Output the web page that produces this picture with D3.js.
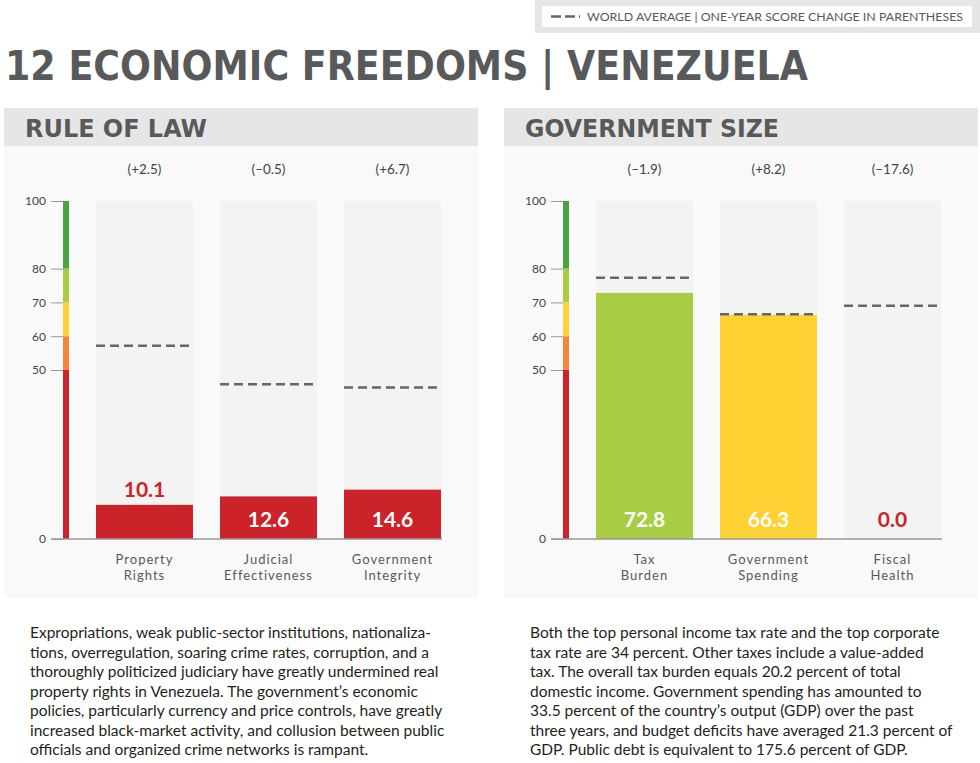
<!DOCTYPE html>
<html>
<head>
<meta charset="utf-8">
<script src="https://cdn.jsdelivr.net/npm/d3@7"></script>
<style>
	html, body { margin: 0; padding: 0; background: #fff; }
	svg { display: block; }
	text { font-family: Lato, "Open Sans", sans-serif; }
</style>
</head>
<body>
<div id="chart"></div>
<script>
// data
var ticks = [0, 50, 60, 70, 80, 100];
var bands = [
	{ from: 0, to: 50, color: "#cc2229" },
	{ from: 50, to: 60, color: "#f4873a" },
	{ from: 60, to: 70, color: "#fed232" },
	{ from: 70, to: 80, color: "#a8cd45" },
	{ from: 80, to: 100, color: "#49a442" }
];

var lawCategories = [["Property", "Rights"], ["Judicial", "Effectiveness"], ["Government", "Integrity"]];
var lawScores = [10.1, 12.6, 14.6];
var lawWorld = [57.2, 45.8, 44.8];
var lawChanges = ["(+2.5)", "(\u20130.5)", "(+6.7)"];
var lawText = [
	"Expropriations, weak public-sector institutions, nationaliza-",
	"tions, overregulation, soaring crime rates, corruption, and a",
	"thoroughly politicized judiciary have greatly undermined real",
	"property rights in Venezuela. The government\u2019s economic",
	"policies, particularly currency and price controls, have greatly",
	"increased black-market activity, and collusion between public",
	"officials and organized crime networks is rampant."
];

var govCategories = [["Tax", "Burden"], ["Government", "Spending"], ["Fiscal", "Health"]];
var govScores = [72.8, 66.3, 0.0];
var govWorld = [77.3, 66.5, 69.0];
var govChanges = ["(\u20131.9)", "(+8.2)", "(\u201317.6)"];
var govText = [
	"Both the top personal income tax rate and the top corporate",
	"tax rate are 34 percent. Other taxes include a value-added",
	"tax. The overall tax burden equals 20.2 percent of total",
	"domestic income. Government spending has amounted to",
	"33.5 percent of the country\u2019s output (GDP) over the past",
	"three years, and budget deficits have averaged 21.3 percent of",
	"GDP. Public debt is equivalent to 175.6 percent of GDP."
];

var width = 980;
var height = 763;
var grey = "#58595b";

var svg = d3.select("#chart")
	.append("svg")
	.attr("width", width)
	.attr("height", height);

// legend box
svg.append("rect").attr("x", 535).attr("y", 0).attr("width", 445).attr("height", 33).attr("fill", "#e6e6e6");
svg.append("rect").attr("x", 542).attr("y", 6).attr("width", 430).attr("height", 21).attr("fill", "#fff");
svg.append("line")
	.attr("x1", 551).attr("x2", 580).attr("y1", 16.5).attr("y2", 16.5)
	.attr("stroke", "#666").attr("stroke-width", 2.5).attr("stroke-dasharray", "10,4");
svg.append("text")
	.attr("x", 587).attr("y", 20.5)
	.attr("font-size", 11)
	.attr("fill", grey)
	.attr("textLength", 376)
	.attr("lengthAdjust", "spacingAndGlyphs")
	.text("WORLD AVERAGE  |  ONE-YEAR SCORE CHANGE IN PARENTHESES");

// main title
svg.append("text")
	.attr("x", 5).attr("y", 80)
	.attr("font-size", 40)
	.attr("font-weight", "bold")
	.attr("fill", grey)
	.style("font-family", "'DejaVu Sans', sans-serif")
	.attr("textLength", 803)
	.attr("lengthAdjust", "spacingAndGlyphs")
	.text("12 ECONOMIC FREEDOMS | VENEZUELA");

function colorFor (v) {
	var c = bands[0].color;
	bands.forEach(function (b) { if (v >= b.from) { c = b.color; } });
	return c;
}

function drawPanel (x0, title, titleWidth, categories, scores, world, changes, textLines) {
	var g = svg.append("g").attr("transform", "translate(" + x0 + ",0)");

	// panel backgrounds
	g.append("rect").attr("x", 4).attr("y", 108).attr("width", 474).attr("height", 38).attr("fill", "#e6e6e6");
	g.append("rect").attr("x", 4).attr("y", 146).attr("width", 474).attr("height", 452).attr("fill", "#f9f9f9");

	g.append("text")
		.attr("x", 25).attr("y", 137)
		.attr("font-size", 24)
		.attr("font-weight", "bold")
		.attr("fill", grey)
		.style("font-family", "'DejaVu Sans', sans-serif")
		.attr("textLength", titleWidth)
		.attr("lengthAdjust", "spacingAndGlyphs")
		.text(title);

	var y = d3.scaleLinear().domain([0, 100]).range([539, 201]);
	var x = d3.scaleBand()
		.domain(d3.range(categories.length))
		.range([96, 441])
		.paddingInner(0.2177)
		.paddingOuter(0);

	// colour scale bar
	g.selectAll(".band")
		.data(bands)
		.enter()
		.append("rect")
		.attr("x", 63)
		.attr("width", 6)
		.attr("y", function (d) { return y(d.to); })
		.attr("height", function (d) { return y(d.from) - y(d.to); })
		.attr("fill", function (d) { return d.color; });

	// axis
	var axis = g.append("g")
		.attr("transform", "translate(63,0)")
		.call(d3.axisLeft(y).tickValues(ticks).tickSize(12).tickPadding(5).tickFormat(d3.format("d")));
	axis.select(".domain").remove();
	axis.selectAll(".tick line").attr("stroke", "#999");
	axis.selectAll(".tick text")
		.attr("fill", "#444")
		.attr("font-size", 12)
		.style("font-family", "Lato, sans-serif");

	// background columns
	g.selectAll(".bg")
		.data(scores)
		.enter()
		.append("rect")
		.attr("x", function (d, i) { return x(i); })
		.attr("width", x.bandwidth())
		.attr("y", y(100))
		.attr("height", y(0) - y(100))
		.attr("fill", "#f3f3f3");

	// bars
	g.selectAll(".bar")
		.data(scores)
		.enter()
		.append("rect")
		.attr("x", function (d, i) { return x(i); })
		.attr("width", x.bandwidth())
		.attr("y", function (d) { return y(d); })
		.attr("height", function (d) { return y(0) - y(d); })
		.attr("fill", function (d) { return colorFor(d); });

	// baseline
	g.append("line")
		.attr("x1", 51).attr("x2", 442)
		.attr("y1", y(0)).attr("y2", y(0))
		.attr("stroke", "#999").attr("stroke-width", 1.5);

	// world average
	g.selectAll(".avg")
		.data(world)
		.enter()
		.append("line")
		.attr("x1", function (d, i) { return x(i); })
		.attr("x2", function (d, i) { return x(i) + x.bandwidth(); })
		.attr("y1", function (d) { return y(d); })
		.attr("y2", function (d) { return y(d); })
		.attr("stroke", "#666")
		.attr("stroke-width", 2.5)
		.attr("stroke-dasharray", "9,5");

	// value labels
	g.selectAll(".val")
		.data(scores)
		.enter()
		.append("text")
		.attr("x", function (d, i) { return x(i) + x.bandwidth() / 2; })
		.attr("y", function (d) {
			var h = y(0) - y(d);
			return h > 40 ? 527 : Math.min(527, y(d) - 8);
		})
		.attr("text-anchor", "middle")
		.attr("font-size", 21)
		.attr("font-weight", "bold")
		.attr("fill", function (d) { return (y(0) - y(d)) > 40 ? "#fff" : "#cc2229"; })
		.text(function (d) { return d.toFixed(1); });

	// change labels
	g.selectAll(".chg")
		.data(changes)
		.enter()
		.append("text")
		.attr("x", function (d, i) { return x(i) + x.bandwidth() / 2; })
		.attr("y", 174)
		.attr("text-anchor", "middle")
		.attr("font-size", 13.5)
		.attr("fill", "#444")
		.text(function (d) { return d; });

	// category labels, one text per line
	categories.forEach(function (lines, i) {
		g.selectAll(".cat" + i)
			.data(lines)
			.enter()
			.append("text")
			.attr("x", x(i) + x.bandwidth() / 2)
			.attr("y", function (d, j) { return 564 + j * 15.5; })
			.attr("text-anchor", "middle")
			.attr("font-size", 13)
			.attr("letter-spacing", 1)
			.attr("fill", grey)
			.text(function (d) { return d; });
	});

	// description
	g.selectAll(".desc")
		.data(textLines)
		.enter()
		.append("text")
		.attr("x", 30)
		.attr("y", function (d, i) { return 638 + i * 19.5; })
		.attr("font-size", 15.5)
		.attr("fill", "#231f20")
		.text(function (d) { return d; });
}

drawPanel(0, "RULE OF LAW", 182, lawCategories, lawScores, lawWorld, lawChanges, lawText);
drawPanel(500, "GOVERNMENT SIZE", 254, govCategories, govScores, govWorld, govChanges, govText);
</script>
</body>
</html>
